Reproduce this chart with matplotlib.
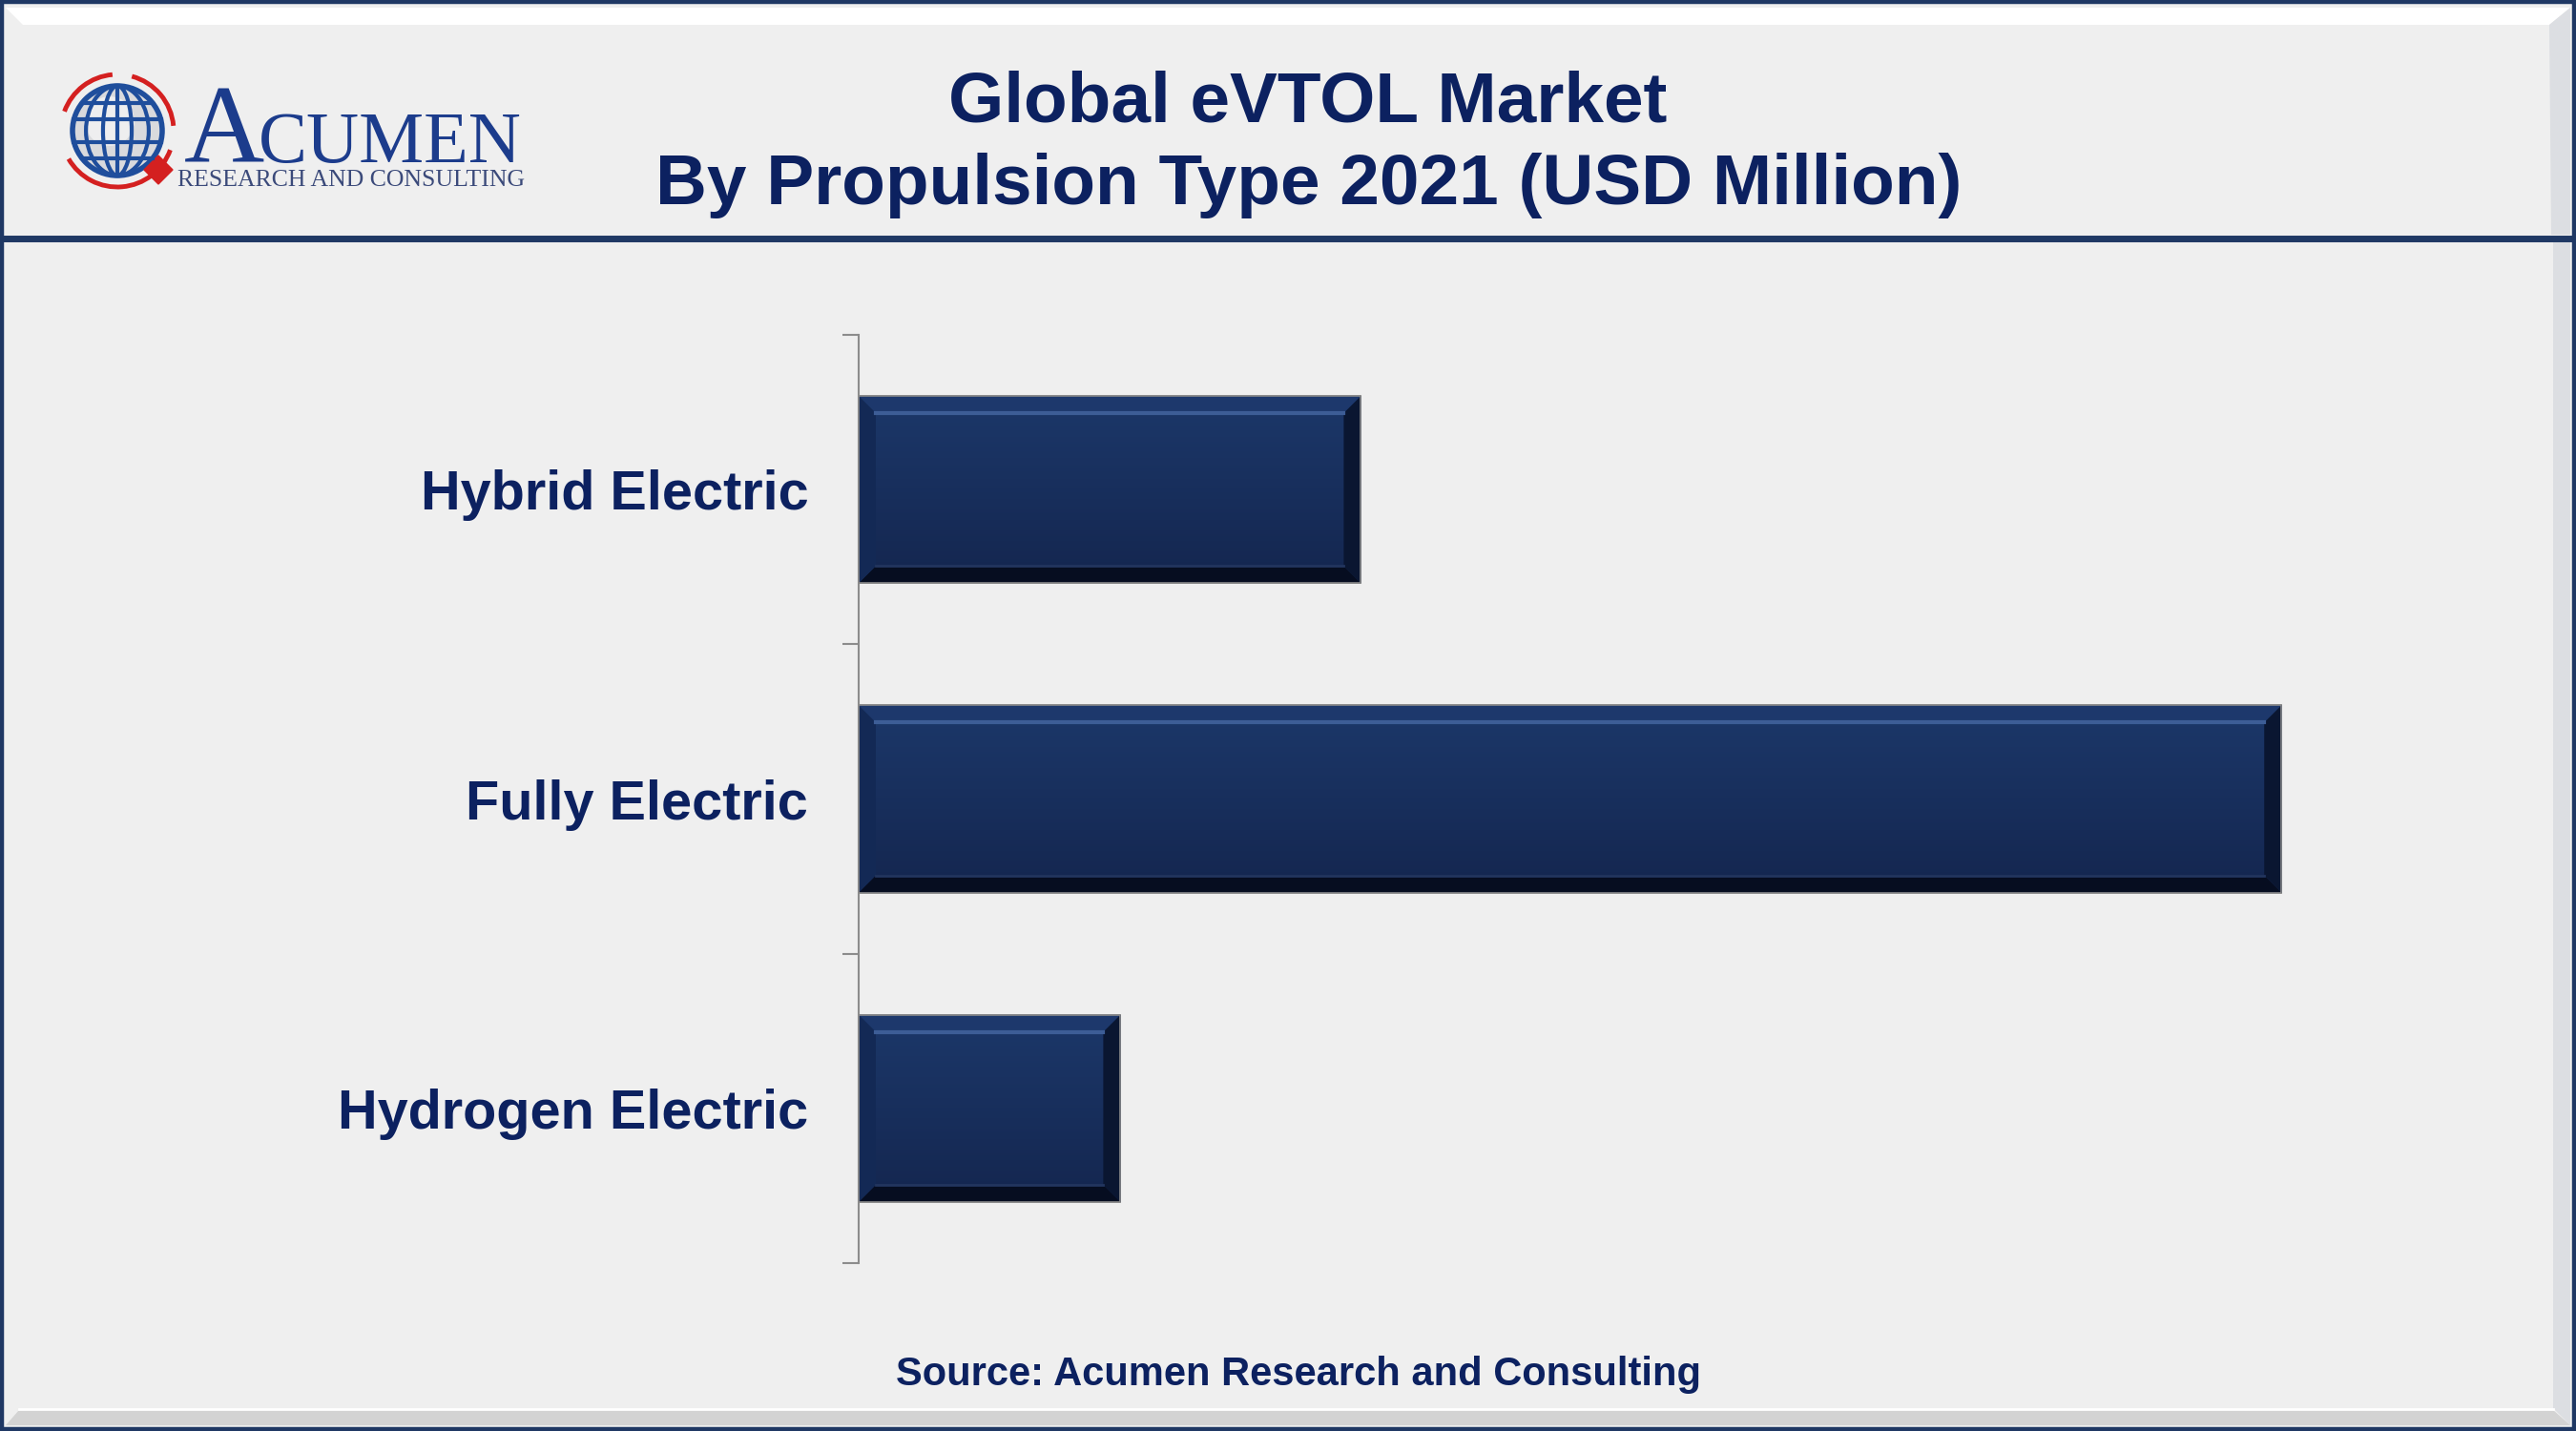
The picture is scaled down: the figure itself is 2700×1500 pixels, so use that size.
import numpy as np
import matplotlib
matplotlib.use("Agg")
import matplotlib.pyplot as plt
from matplotlib.patches import Polygon, Rectangle, Circle, Ellipse, Arc, RegularPolygon

categories = ["Hybrid Electric", "Fully Electric", "Hydrogen Electric"]
values = [353.0, 1000.0, 184.0]
title_1 = "Global eVTOL Market"
title_2 = "By Propulsion Type 2021 (USD Million)"
source = "Source: Acumen Research and Consulting"

NAVY = "#0c2160"
BORDER = "#1f3864"
BG = "#efefef"
W_PX, H_PX = 2700, 1500

fig = plt.figure(figsize=(27, 15), dpi=100, facecolor=BG)

# --- capa de fondo en pixeles (y hacia abajo) ---
bg = fig.add_axes([0, 0, 1, 1], zorder=0)
bg.set_xlim(0, W_PX)
bg.set_ylim(H_PX, 0)
bg.axis("off")
bg.set_facecolor(BG)

# biseles del panel de cabecera y del cuerpo
bg.add_patch(Polygon([(6, 8), (2694, 8), (2672, 26), (24, 26)], color="white", lw=0))
bg.add_patch(Polygon([(2694, 8), (2694, 246), (2674, 246), (2672, 26)], color="#dcdee2", lw=0))
bg.add_patch(Polygon([(2694, 254), (2694, 1494), (2676, 1476), (2676, 254)], color="#dcdee2", lw=0))
bg.add_patch(Polygon([(6, 1494), (2694, 1494), (2676, 1478), (20, 1478)], color="#d3d3d3", lw=0))
bg.plot([20, 2676], [1477, 1477], color="white", lw=2)
# borde exterior y linea de cabecera
bg.add_patch(Rectangle((2, 2), W_PX - 4, H_PX - 4, fill=False, ec=BORDER, lw=3.2))
bg.plot([0, W_PX], [250, 250], color=BORDER, lw=5, solid_capstyle="butt")

# titulo y fuente
bg.text(1371, 128, title_1, ha="center", va="baseline", fontsize=53.8,
        fontweight="bold", color=NAVY, family="Liberation Sans")
bg.text(1372, 214, title_2, ha="center", va="baseline", fontsize=53.8,
        fontweight="bold", color=NAVY, family="Liberation Sans")
bg.text(1361, 1452, source, ha="center", va="baseline", fontsize=30,
        fontweight="bold", color=NAVY, family="Liberation Sans")

# --- logo ---
cx, cy, r = 123, 137, 47
bg.add_patch(Circle((cx, cy), r, fc="#d9dadd", ec="#1f4e9c", lw=4))
bg.add_patch(Circle((cx - 8, cy - 10), r * 0.55, fc="#f4f4f4", ec="none", alpha=0.8))
for k in [0.32, 0.7]:
    bg.add_patch(Ellipse((cx, cy), 2 * r * k, 2 * r, fill=False, ec="#1f4e9c", lw=3))
bg.plot([cx, cx], [cy - r, cy + r], color="#1f4e9c", lw=3)
for f in [-0.62, -0.25, 0.25, 0.62]:
    half = r * np.sqrt(1 - f ** 2)
    bg.plot([cx - half, cx + half], [cy + f * r, cy + f * r], color="#1f4e9c", lw=3)
for t1, t2 in [(200, 265), (285, 355), (20, 150)]:
    bg.add_patch(Arc((cx, cy), 2 * 59, 2 * 59, theta1=t1, theta2=t2, color="#d42020", lw=3.5))
bg.add_patch(RegularPolygon((166, 178), 4, radius=15, orientation=0, color="#d42020"))
bg.text(193, 170, "A", fontsize=84, color="#1c3c8c", family="Liberation Serif",
        va="baseline", ha="left")
bg.text(271, 170, "CUMEN", fontsize=55, color="#1c3c8c", family="Liberation Serif",
        va="baseline", ha="left")
bg.text(186, 195, "RESEARCH AND CONSULTING", fontsize=18.5, color="#3b4a7a",
        family="Liberation Serif", va="baseline", ha="left")

# --- grafico de barras ---
ax_l, ax_b, ax_w, ax_h = 900, 351, 1700, 973
ax = fig.add_axes([ax_l / W_PX, 1 - (ax_b + ax_h) / H_PX, ax_w / W_PX, ax_h / H_PX], zorder=1)
ax.set_facecolor("none")
ypos = np.arange(len(categories))
XMAX = 1140
ax.set_xlim(0, XMAX)
ax.set_ylim(len(categories) - 0.5, -0.5)

bars = ax.barh(ypos, values, height=0.605, color="#1a3262", edgecolor="#8a8a8a",
               linewidth=1.2, zorder=2)

bev = 18
bx = bev * XMAX / ax_w
by = bev * len(categories) / ax_h
grad = np.linspace(0, 1, 256).reshape(-1, 1)
cmap = matplotlib.colors.LinearSegmentedColormap.from_list("bar", ["#1c386a", "#14264f"])
for b in bars:
    x0, x1 = b.get_x(), b.get_x() + b.get_width()
    yt, yb = b.get_y(), b.get_y() + b.get_height()
    im = ax.imshow(grad, cmap=cmap, aspect="auto", extent=(x0, x1, yb, yt), zorder=2.5)
    im.set_clip_path(b)
    ax.add_patch(Polygon([(x0, yt), (x1, yt), (x1 - bx, yt + by), (x0 + bx, yt + by)],
                         color="#1d386c", lw=0, zorder=3))
    ax.add_patch(Polygon([(x0, yb), (x1, yb), (x1 - bx, yb - by), (x0 + bx, yb - by)],
                         color="#060d20", lw=0, zorder=3))
    ax.add_patch(Polygon([(x0, yt), (x0 + bx, yt + by), (x0 + bx, yb - by), (x0, yb)],
                         color="#132955", lw=0, zorder=3))
    ax.add_patch(Polygon([(x1, yt), (x1 - bx, yt + by), (x1 - bx, yb - by), (x1, yb)],
                         color="#0a1631", lw=0, zorder=3))
    ax.plot([x0 + bx, x1 - bx], [yt + by, yt + by], color="#3d5d96", lw=3, zorder=3.5)
    ax.plot([x0 + bx, x1 - bx], [yb - by, yb - by], color="#22355e", lw=2, zorder=3.5)
    ax.add_patch(Rectangle((x0, yt), x1 - x0, yb - yt, fill=False, ec="#8a8a8a",
                           lw=1.2, zorder=4))

for s in ["top", "right", "bottom"]:
    ax.spines[s].set_visible(False)
ax.spines["left"].set_color("#8c8c8c")
ax.spines["left"].set_linewidth(1.5)
ax.xaxis.set_visible(False)
ax.set_yticks(ypos)
ax.set_yticklabels(categories, fontsize=41.5, fontweight="bold", color=NAVY,
                   family="Liberation Sans")
ax.set_yticks(np.arange(-0.5, len(categories)), minor=True)
ax.tick_params(axis="y", which="major", length=0, pad=38)
ax.tick_params(axis="y", which="minor", length=12, width=1.5, color="#8c8c8c", direction="out")
for lbl in ax.get_yticklabels():
    lbl.set_y(lbl.get_position()[1])

fig.savefig("out.png", dpi=100, facecolor=BG)
